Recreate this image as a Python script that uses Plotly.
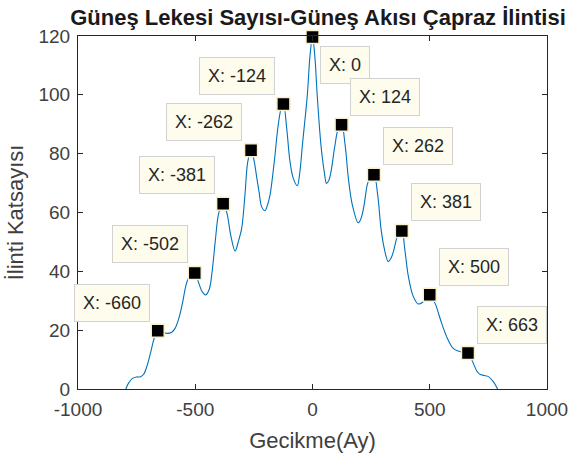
import plotly.graph_objects as go

# Cross-correlation between sunspot number and solar flux, by lag in months
lags = [-820, -796, -785, -768, -750, -735, -720, -705, -690, -676, -660, -640,
        -620, -600, -586, -570, -555, -537, -520, -502, -485, -470, -455, -440,
        -428, -415, -402, -392, -381, -365, -348, -330, -315, -302, -288, -276,
        -262, -250, -238, -227, -217, -203, -192, -181, -163, -148, -135, -124,
        -110, -96, -82, -65, -55, -43, -22, -11, 0, 10, 20, 36, 50, 60, 70, 79,
        96, 110, 124, 139, 153, 170, 195, 207, 220, 235, 248, 262, 278, 292, 306,
        323, 335, 345, 359, 370, 381, 394, 409, 430, 451, 470, 488, 500, 513, 526,
        538, 551, 572, 600, 622, 642, 663, 686, 700, 714, 732, 750, 771, 788, 810]
corr = [-4, 0, 1.9, 3.6, 4.1, 4.1, 5.0, 8.0, 12.5, 17, 19.8, 19.5,
        18.9, 19.3, 20.6, 24, 29, 36, 39, 39.4, 36, 33, 32.0, 34,
        40, 50, 59, 61.8, 63, 59.8, 52, 46.9, 50.5, 54.6, 66, 77.3,
        81.2, 78, 72, 66.5, 62, 60.6, 62.5, 66, 77.3, 88.6, 95, 96.9,
        88.6, 77.3, 71.6, 69.1, 73, 83, 100, 113, 119.7, 113, 100, 83, 73.9, 69.9, 71, 73.9,
        83, 88.5, 89.8, 83, 71.6, 62.5, 56.5, 58, 62.5, 69.9, 72, 72.8, 66, 54.6, 47.8,
        43.3, 44.5, 46.7, 51.2, 53.3, 53.7, 47.2, 38.2, 31.4, 28.9, 29.5, 31.3, 32, 30.5, 28.5,
        25.5, 22.3, 17.8, 13.8, 12.9, 12.5, 12.2, 8.7, 6.2, 5.0, 4.6, 4.2, 2.5, 0.2, -4]

# Lags marked with data tips
tip_lags = [-660, -502, -381, -262, -124, 0, 124, 262, 381, 500, 663]
tip_vals = [corr[lags.index(t)] for t in tip_lags]
# Pixel offsets of each tip label from its marker
tip_dx = [-46, -45, -46, -47, -46, 32, 43, 44, 44, 44, 44]
tip_dy = [-28, -29, -29, -28, -28, 28, -28, -29, -29, -28, -28]

x_ticks = [-1000, -500, 0, 500, 1000]
y_ticks = [0, 20, 40, 60, 80, 100, 120]

FONT = "Arial, 'Liberation Sans', Helvetica, sans-serif"
AX = "#262626"

fig = go.Figure()
fig.add_trace(go.Scatter(
    x=lags, y=corr, mode="lines",
    line=dict(color="#0072BD", width=1.1, shape="spline", smoothing=1.0),
    hoverinfo="skip", showlegend=False,
))
fig.add_trace(go.Scatter(
    x=tip_lags, y=tip_vals, mode="markers",
    marker=dict(symbol="square", size=13, color="black",
                line=dict(color="#f7f0c8", width=1.5)),
    cliponaxis=False, showlegend=False,
))

for t, v, dx, dy in zip(tip_lags, tip_vals, tip_dx, tip_dy):
    fig.add_annotation(
        x=t, y=v, xref="x", yref="y", text=f"X: {t}",
        showarrow=True, ax=dx, ay=dy, arrowcolor="rgba(0,0,0,0)", arrowwidth=0.1,
        font=dict(family=FONT, size=18, color="#262626"),
        bgcolor="#fefcec", bordercolor="#d2d2d2", borderwidth=1, borderpad=8,
    )

axis_common = dict(
    showline=True, linecolor=AX, linewidth=1, mirror="allticks",
    ticks="inside", ticklen=5, tickcolor=AX, tickwidth=1,
    showgrid=False, zeroline=False,
    tickfont=dict(family=FONT, size=19, color="#404040"),
)

fig.update_layout(
    width=571, height=457,
    margin=dict(l=78, r=24, t=36, b=68, autoexpand=False),
    paper_bgcolor="white", plot_bgcolor="white",
    title=dict(text="<b>Güneş Lekesi Sayısı-Güneş Akısı Çapraz İlintisi</b>",
               x=318 / 571, xanchor="center", y=1 - 17 / 457, yanchor="middle",
               font=dict(family=FONT, size=22, color="#1a1a1a")),
    xaxis=dict(range=[-1000, 1000], tickvals=x_ticks,
               ticktext=[str(v) for v in x_ticks], ticklabelstandoff=3,
               title=dict(text="Gecikme(Ay)", standoff=13,
                          font=dict(family=FONT, size=22, color="#404040")),
               **axis_common),
    yaxis=dict(range=[0, 120], tickvals=y_ticks,
               ticktext=[str(v) for v in y_ticks], ticklabelstandoff=3,
               title=dict(text="İlinti Katsayısı", standoff=8,
                          font=dict(family=FONT, size=22, color="#404040")),
               **axis_common),
)

fig.write_html("out.html")
